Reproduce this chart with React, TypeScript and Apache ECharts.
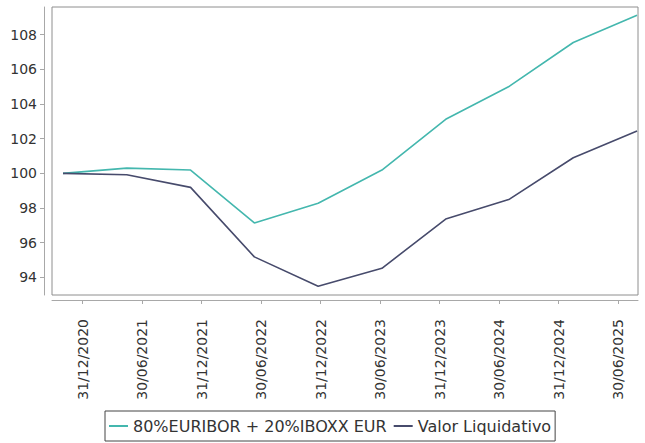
import React, { useEffect, useRef } from "react";
import * as echarts from "echarts";

const dateLabels = [
  "31/12/2020",
  "30/06/2021",
  "31/12/2021",
  "30/06/2022",
  "31/12/2022",
  "30/06/2023",
  "31/12/2023",
  "30/06/2024",
  "31/12/2024",
  "30/06/2025",
];

const benchmarkName = "80%EURIBOR + 20%IBOXX EUR";
const benchmarkValues = [100.0, 100.3, 100.19, 97.14, 98.27, 100.19, 103.12, 105.03, 107.55, 109.12];

const navName = "Valor Liquidativo";
const navValues = [100.0, 99.92, 99.19, 95.18, 93.48, 94.52, 97.36, 98.51, 100.9, 102.45];

const yTicks = [94, 96, 98, 100, 102, 104, 106, 108];

export default function App() {
  const ref = useRef<HTMLDivElement>(null);

  useEffect(() => {
    if (!ref.current) return;
    const chart = echarts.init(ref.current, undefined, { renderer: "svg" });
    const idx = dateLabels.map((_, i) => i);
    const font = "'DejaVu Sans', sans-serif";
    chart.setOption({
      animation: false,
      backgroundColor: "#ffffff",
      grid: {
        left: 52,
        right: 7,
        top: 7,
        bottom: 148,
        show: true,
        borderColor: "#8e8e8e",
        borderWidth: 1,
        backgroundColor: "transparent",
      },
      xAxis: [
        {
          type: "value",
          min: -0.1725,
          max: 9.015,
          show: false,
          axisLine: { onZero: false },
        },
        {
          type: "value",
          min: -0.516,
          max: 9.333,
          position: "bottom",
          offset: 5,
          axisLine: { show: true, onZero: false, lineStyle: { color: "#a8a8a8", width: 1 } },
          axisTick: {
            show: true,
            length: 4,
            customValues: idx,
            lineStyle: { color: "#a8a8a8" },
          },
          splitLine: { show: false },
          axisLabel: {
            customValues: idx,
            rotate: 90,
            margin: 19,
            fontSize: 14,
            fontFamily: font,
            color: "#333333",
            formatter: (v: number) => dateLabels[Math.round(v)] ?? "",
          },
        },
      ],
      yAxis: {
        type: "value",
        min: 92.98,
        max: 109.6,
        offset: 8,
        position: "left",
        axisLine: { show: true, onZero: false, lineStyle: { color: "#a8a8a8", width: 1 } },
        axisTick: {
          show: true,
          length: 4,
          customValues: yTicks,
          lineStyle: { color: "#a8a8a8" },
        },
        splitLine: { show: false },
        axisLabel: {
          customValues: yTicks,
          margin: 7,
          fontSize: 14,
          fontFamily: font,
          color: "#333333",
        },
      },
      legend: {
        left: 105,
        top: 411,
        padding: [6, 4, 6, 4],
        borderColor: "#444444",
        borderWidth: 1,
        itemWidth: 19,
        itemHeight: 2,
        itemGap: 7,
        icon: "rect",
        textStyle: {
          fontSize: 16,
          fontFamily: font,
          color: "#333333",
          lineHeight: 18,
        },
        data: [benchmarkName, navName],
      },
      series: [
        {
          name: benchmarkName,
          type: "line",
          xAxisIndex: 0,
          data: benchmarkValues.map((v, i) => [i, v]),
          showSymbol: false,
          symbol: "none",
          lineStyle: { color: "#44b7ae", width: 1.6 },
          itemStyle: { color: "#44b7ae" },
        },
        {
          name: navName,
          type: "line",
          xAxisIndex: 0,
          data: navValues.map((v, i) => [i, v]),
          showSymbol: false,
          symbol: "none",
          lineStyle: { color: "#474b6c", width: 1.6 },
          itemStyle: { color: "#474b6c" },
        },
      ],
    });
    return () => chart.dispose();
  }, []);

  return (
    <div
      ref={ref}
      style={{ position: "absolute", left: 0, top: 0, width: 645, height: 443 }}
    />
  );
}
